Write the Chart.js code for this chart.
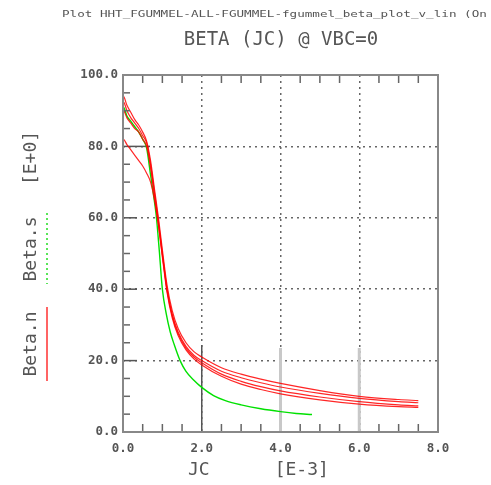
<!DOCTYPE html>
<html>
<head>
<meta charset="utf-8">
<script src="https://cdn.jsdelivr.net/npm/chart.js@4.4.1/dist/chart.umd.min.js"></script>
<style>
  html, body { margin: 0; padding: 0; background: #fff; }
  #wrap { width: 491px; height: 485px; }
</style>
</head>
<body>
<div id="wrap"><canvas id="beta-canvas" width="491" height="485"></canvas></div>
<script>
// JC in units of 1e-3, beta in units of 1
let jcS = [0, 0.01, 0.1, 0.2, 0.3, 0.4, 0.5, 0.6, 0.7, 0.78, 0.85, 0.92, 1.0, 1.1, 1.2, 1.3, 1.45, 1.6, 1.8, 2.0, 2.3, 2.6, 3.0, 3.5, 4.0, 4.4, 4.8];
let betaS = [0, 91, 88.5, 87, 85.5, 84, 82, 79.5, 72, 66, 60, 51, 40, 33, 28, 24.5, 20, 17, 14.5, 12.5, 10.2, 8.8, 7.6, 6.5, 5.7, 5.2, 4.9];

let jcN = [0, 0.01, 0.1, 0.2, 0.3, 0.4, 0.5, 0.6, 0.7, 0.8, 0.9, 1.0, 1.12, 1.25, 1.4, 1.6, 1.8, 2.0, 2.5, 3.0, 3.5, 4.0, 5.0, 6.0, 7.0, 7.5];
let betaN1 = [0, 94, 91.5, 89.5, 87.5, 86, 84, 81.5, 76, 68, 60, 51, 41, 34, 29, 25, 22.5, 21, 18, 16.2, 14.8, 13.6, 11.6, 10.0, 9.1, 8.8];
let betaN2 = [0, 92.5, 90, 88, 86.5, 85, 83, 81, 75, 67, 59, 50, 40, 33, 28, 24, 21.5, 20, 17, 15.2, 13.8, 12.6, 10.8, 9.4, 8.5, 8.2];
let betaN3 = [0, 90, 88, 86.5, 85, 84, 82, 80, 74, 66, 58, 49, 39, 32, 27, 23, 20.5, 18.8, 15.6, 13.4, 11.9, 10.7, 9.0, 7.8, 7.1, 6.9];
let betaN4 = [0, 82, 80.5, 79, 77.5, 76, 74.5, 72.5, 70, 65, 58, 49.5, 39.5, 32.5, 27.5, 23.5, 21, 19.4, 16.2, 14.2, 12.7, 11.5, 9.8, 8.5, 7.6, 7.3];

let xTicks = [0, 2, 4, 6, 8];
let yTicks = [0, 20, 40, 60, 80, 100];

let headerText = 'Plot HHT_FGUMMEL-ALL-FGUMMEL-fgummel_beta_plot_v_lin (On';
let titleText = 'BETA (JC) @ VBC=0';

function pts(xs, ys) {
    return xs.map((x, i) => ({x: x, y: ys[i]}));
}

let mono = '"DejaVu Sans Mono", "Liberation Mono", monospace';

let framePlugin = {
    id: 'frame',
    beforeDatasetsDraw(chart) {
        let ctx = chart.ctx;
        let a = chart.chartArea;
        let xs = chart.scales.x, ys = chart.scales.y;
        ctx.save();
        // long major tick marks
        ctx.lineWidth = 1.5;
        ctx.strokeStyle = '#555';
        ctx.beginPath();
        ctx.moveTo(xs.getPixelForValue(2), a.bottom);
        ctx.lineTo(xs.getPixelForValue(2), a.bottom - 87);
        ctx.stroke();
        ctx.lineWidth = 3;
        ctx.strokeStyle = '#c8c8c8';
        [4, 6].forEach(v => {
            ctx.beginPath();
            ctx.moveTo(xs.getPixelForValue(v), a.bottom);
            ctx.lineTo(xs.getPixelForValue(v), a.bottom - 84);
            ctx.stroke();
        });
        ctx.lineWidth = 1.5;
        ctx.strokeStyle = '#555';
        [20, 40, 60, 80].forEach(v => {
            let len = v === 80 ? 27 : 14;
            ctx.beginPath();
            ctx.moveTo(a.left, ys.getPixelForValue(v));
            ctx.lineTo(a.left + len, ys.getPixelForValue(v));
            ctx.stroke();
        });
        ctx.restore();
    },
    afterDraw(chart) {
        let ctx = chart.ctx;
        let a = chart.chartArea;
        let xs = chart.scales.x, ys = chart.scales.y;
        ctx.save();
        // minor ticks
        ctx.strokeStyle = '#666';
        ctx.lineWidth = 1.5;
        for (let v = 0.5; v < 8; v += 0.5) {
            if (v % 2 === 0) continue;
            let px = xs.getPixelForValue(v);
            ctx.beginPath();
            ctx.moveTo(px, a.bottom);
            ctx.lineTo(px, a.bottom - 8);
            ctx.moveTo(px, a.top);
            ctx.lineTo(px, a.top + 8);
            ctx.stroke();
        }
        for (let v = 5; v < 100; v += 5) {
            if (v % 20 === 0) continue;
            let py = ys.getPixelForValue(v);
            ctx.beginPath();
            ctx.moveTo(a.left, py);
            ctx.lineTo(a.left + 7, py);
            ctx.stroke();
        }
        // frame
        ctx.strokeStyle = '#888';
        ctx.lineWidth = 2;
        ctx.strokeRect(a.left, a.top, a.right - a.left, a.bottom - a.top);

        // header line
        ctx.fillStyle = '#555';
        ctx.textBaseline = 'middle';
        ctx.textAlign = 'left';
        ctx.save();
        ctx.translate(62, 15);
        ctx.scale(1.4, 1);
        ctx.font = '9px ' + mono;
        ctx.fillText(headerText, 0, 0);
        ctx.restore();

        // title
        ctx.font = '19px ' + mono;
        ctx.textAlign = 'center';
        ctx.fillStyle = '#555';
        ctx.fillText(titleText, 281, 40);

        // x axis title
        ctx.font = '18px ' + mono;
        ctx.textAlign = 'left';
        ctx.fillText('JC      [E-3]', 188, 470);

        // rotated y legend
        ctx.save();
        ctx.translate(31, 0);
        ctx.rotate(-Math.PI / 2);
        ctx.textAlign = 'center';
        ctx.fillText('[E+0]', -158, 0);
        ctx.fillText('Beta.s', -249, 0);
        ctx.fillText('Beta.n', -344, 0);
        ctx.restore();

        ctx.lineWidth = 1.5;
        ctx.strokeStyle = '#22dd22';
        ctx.setLineDash([2, 3]);
        ctx.beginPath();
        ctx.moveTo(47, 213);
        ctx.lineTo(47, 284);
        ctx.stroke();
        ctx.setLineDash([]);
        ctx.strokeStyle = '#ff3030';
        ctx.beginPath();
        ctx.moveTo(47, 307);
        ctx.lineTo(47, 381);
        ctx.stroke();
        ctx.restore();
    }
};

let betaCtx = document.getElementById('beta-canvas').getContext('2d');

let redLine = {
    borderColor: 'rgba(255, 0, 0, 0.85)',
    borderWidth: 1.2,
    pointRadius: 0,
    cubicInterpolationMode: 'monotone',
    fill: false
};

let betaChart = new Chart(betaCtx, {
    type: 'line',
    data: {
        datasets: [
            Object.assign({label: 'Beta.n', data: pts(jcN, betaN1)}, redLine),
            Object.assign({label: 'Beta.n', data: pts(jcN, betaN2)}, redLine),
            Object.assign({label: 'Beta.n', data: pts(jcN, betaN3)}, redLine),
            Object.assign({label: 'Beta.n', data: pts(jcN, betaN4)}, redLine),
            {
                label: 'Beta.s',
                data: pts(jcS, betaS),
                borderColor: 'rgba(0, 225, 0, 1)',
                borderWidth: 1.4,
                pointRadius: 0,
                cubicInterpolationMode: 'monotone',
                fill: false
            }
        ]
    },
    options: {
        responsive: false,
        animation: false,
        layout: {
            padding: {
                left: 0,
                right: 53,
                top: 75,
                bottom: 0
            }
        },
        plugins: {
            legend: {display: false},
            title: {display: false},
            tooltip: {enabled: false}
        },
        scales: {
            x: {
                type: 'linear',
                min: 0,
                max: 8,
                afterFit: s => { s.height = 53; },
                afterBuildTicks: s => { s.ticks = xTicks.map(v => ({value: v})); },
                border: {display: false, dash: [2, 4]},
                grid: {
                    drawTicks: false,
                    lineWidth: 1.5,
                    color: c => (c.tick && (c.tick.value === 0 || c.tick.value === 8)) ? 'rgba(0,0,0,0)' : '#666'
                },
                ticks: {
                    padding: 9,
                    color: '#555',
                    font: {family: mono, size: 12.5, weight: 'bold'},
                    maxRotation: 0,
                    callback: v => v.toFixed(1)
                }
            },
            y: {
                min: 0,
                max: 100,
                afterFit: s => { s.width = 123; },
                afterBuildTicks: s => { s.ticks = yTicks.map(v => ({value: v})); },
                border: {display: false, dash: [2, 4]},
                grid: {
                    drawTicks: false,
                    lineWidth: 1.5,
                    color: c => (c.tick && (c.tick.value === 0 || c.tick.value === 100)) ? 'rgba(0,0,0,0)' : '#666'
                },
                ticks: {
                    padding: 5,
                    color: '#555',
                    font: {family: mono, size: 12.5, weight: 'bold'},
                    callback: v => v.toFixed(1)
                }
            }
        }
    },
    plugins: [framePlugin]
});
</script>
</body>
</html>
